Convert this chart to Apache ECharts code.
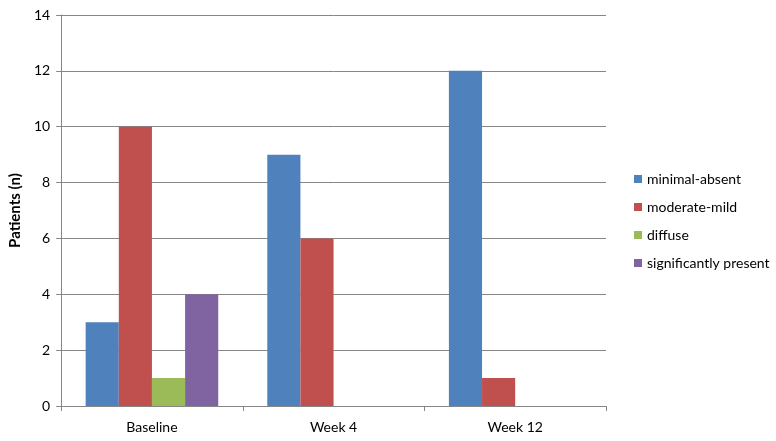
<!DOCTYPE html>
<html>
<head>
<meta charset="utf-8">
<script src="https://cdn.jsdelivr.net/npm/echarts@6/dist/echarts.min.js"></script>
<style>
html, body { margin: 0; padding: 0; background: #fff; }
#chart { width: 776px; height: 441px; }
</style>
</head>
<body>
<div id="chart"></div>
<script>
var categories = ['Baseline', 'Week 4', 'Week 12'];
var minimalAbsent = [3, 9, 12];
var moderateMild = [10, 6, 1];
var diffuse = [1, 0, 0];
var significantlyPresent = [4, 0, 0];
var seriesNames = ['minimal-absent', 'moderate-mild', 'diffuse', 'significantly present'];
var colors = ['#4F81BD', '#C0504D', '#9BBB59', '#8064A2'];

var myChart = echarts.init(document.getElementById('chart'));
var font = 'Lato, "Open Sans", sans-serif';
var values = [minimalAbsent, moderateMild, diffuse, significantlyPresent];
var series = [];
for (var i = 0; i < values.length; i++) {
    series.push({
        name: seriesNames[i],
        type: 'bar',
        data: values[i],
        itemStyle: { color: colors[i] },
        barGap: '0%',
        barCategoryGap: '27%'
    });
}

var option = {
    animation: false,
    textStyle: { fontFamily: font },
    color: colors,
    grid: { left: 58, right: 170, top: 15, bottom: 35 },
    legend: {
        orient: 'vertical',
        left: 629,
        top: 167,
        itemWidth: 8,
        itemHeight: 8,
        itemGap: 14,
        icon: 'rect',
        textStyle: { fontSize: 14, color: '#000', fontFamily: font },
        data: seriesNames
    },
    xAxis: {
        type: 'category',
        data: categories,
        axisLine: { lineStyle: { color: '#868686' } },
        axisTick: { show: true, length: 5, lineStyle: { color: '#868686' } },
        axisLabel: { color: '#000', fontSize: 14, margin: 14 }
    },
    yAxis: {
        type: 'value',
        min: 0,
        max: 14,
        interval: 2,
        name: 'Patients (n)',
        nameLocation: 'middle',
        nameGap: 36,
        nameTextStyle: { fontSize: 15, fontWeight: 'bold', color: '#000' },
        axisLine: { show: true, lineStyle: { color: '#868686' } },
        axisTick: { show: true, length: 5, lineStyle: { color: '#868686' } },
        axisLabel: { color: '#000', fontSize: 14, margin: 11 },
        splitLine: { lineStyle: { color: '#868686', width: 1 } }
    },
    series: series
};
myChart.setOption(option);
</script>
</body>
</html>
